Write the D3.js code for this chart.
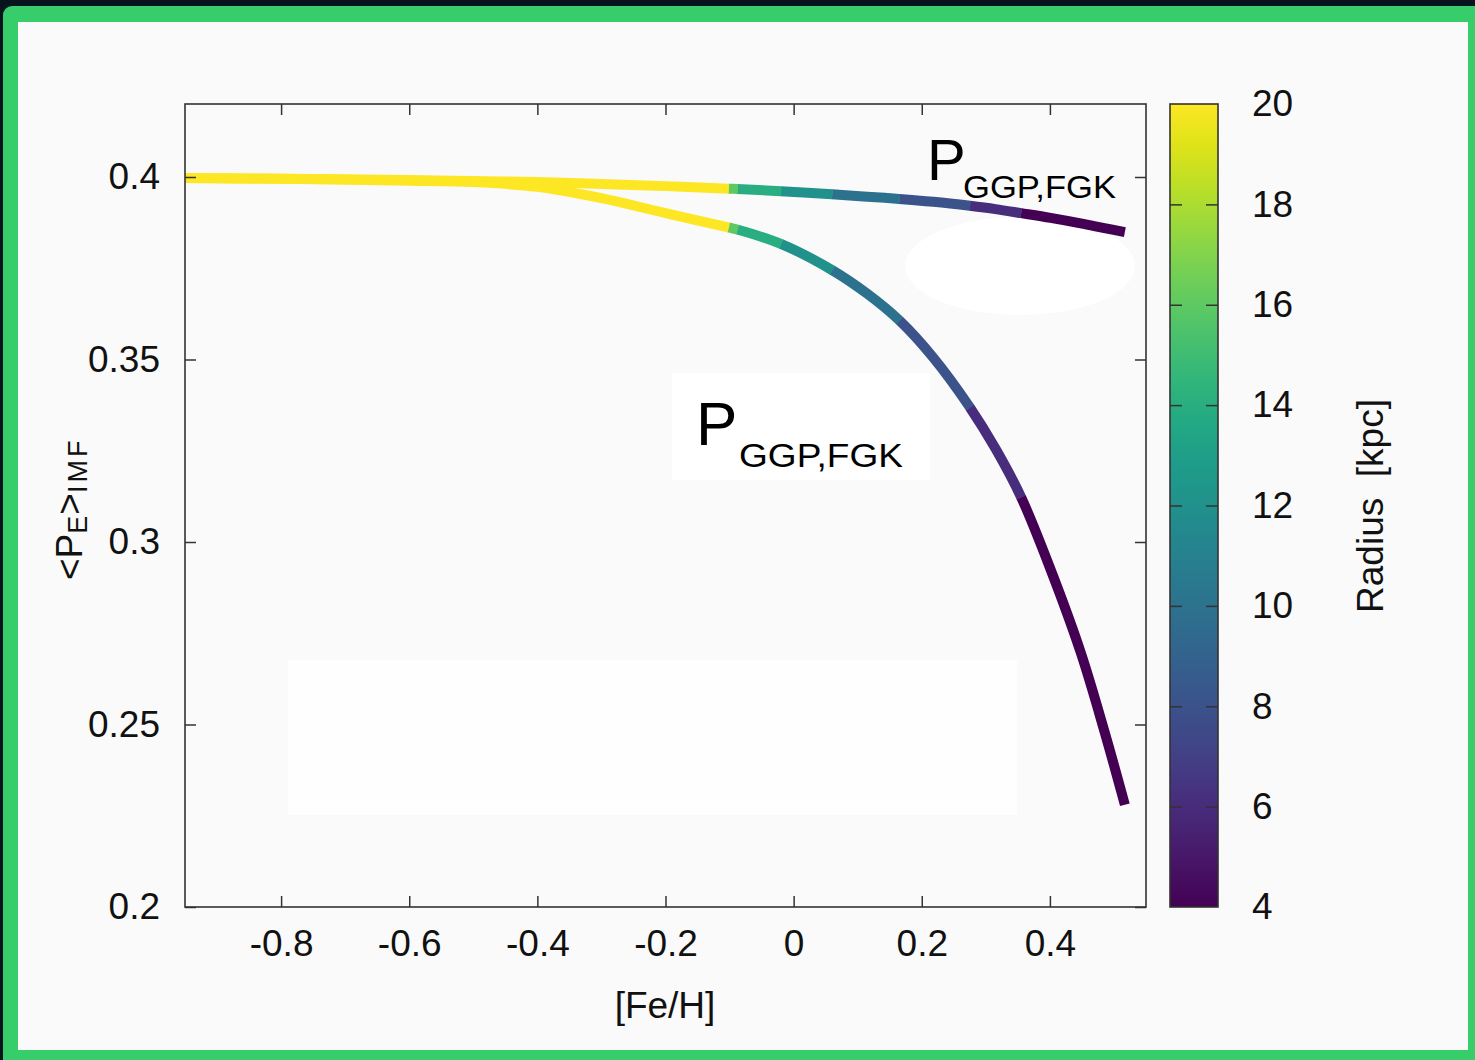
<!DOCTYPE html>
<html>
<head>
<meta charset="utf-8">
<script src="https://cdn.jsdelivr.net/npm/d3@7/dist/d3.min.js"></script>
<style>
  html, body { margin: 0; padding: 0; background: #08141d; }
  svg { display: block; }
  text { font-family: "Liberation Sans", Arial, Helvetica, sans-serif; fill: #111; }
</style>
</head>
<body>
<svg id="chart" width="1475" height="1060"></svg>
<script>
// ---------------- DATA ----------------
// [Fe/H] nodes (inner disc -> outer disc)
const fehValues    = [0.517, 0.485, 0.448, 0.401, 0.355, 0.315, 0.275, 0.218, 0.165, 0.115, 0.06, -0.02, -0.088, -0.102, -0.2, -0.3, -0.4, -0.5, -0.6, -0.8, -0.95];
// galactocentric radius (kpc) of each node
const radiusValues = [4, 4, 4, 4, 6, 6, 8, 8, 10, 10, 12, 14, 16, 20, 21, 22, 23, 24, 25, 27, 29];
// upper curve <P_E>_IMF
const pUpper = [0.3849, 0.3860, 0.3873, 0.3888, 0.3901, 0.3912, 0.3921, 0.3932, 0.3940, 0.3946, 0.3953, 0.3961, 0.3967, 0.3968, 0.3975, 0.3981, 0.3986, 0.3989, 0.3992, 0.3995, 0.3997];
// lower curve <P_E>_IMF
const pLower = [0.2280, 0.2482, 0.2698, 0.2925, 0.3123, 0.3256, 0.3369, 0.3505, 0.3607, 0.3680, 0.3745, 0.3817, 0.3856, 0.3862, 0.3901, 0.3942, 0.3973, 0.3986, 0.3990, 0.3995, 0.3997];

const xTicks = [-0.8, -0.6, -0.4, -0.2, 0, 0.2, 0.4];
const xTickLabels = ["-0.8", "-0.6", "-0.4", "-0.2", "0", "0.2", "0.4"];
const yTicks = [0.2, 0.25, 0.3, 0.35, 0.4];
const yTickLabels = ["0.2", "0.25", "0.3", "0.35", "0.4"];
const cbTicks = [4, 6, 8, 10, 12, 14, 16, 18, 20];
const cbTickLabels = ["4", "6", "8", "10", "12", "14", "16", "18", "20"];

const xTitle = "[Fe/H]";
const cbTitle = "Radius  [kpc]";
const curveLabelMain = "P";
const curveLabelSub = "GGP,FGK";

// ---------------- LAYOUT ----------------
const svg = d3.select("#chart");
const W = 1475, H = 1060;
const plot = { left: 185, top: 104, right: 1146, bottom: 907 };
const cb = { left: 1170, right: 1218, top: 104, bottom: 907 };

// frame
svg.append("rect").attr("x", 3).attr("y", 6).attr("width", W + 10).attr("height", H + 10)
  .attr("rx", 9).attr("fill", "#37cd6b");
svg.append("rect").attr("x", 18).attr("y", 22).attr("width", 1468 - 18).attr("height", 1050 - 22)
  .attr("fill", "#fafafa");

// pasted white patches of the original figure
svg.append("rect").attr("x", 288).attr("y", 660).attr("width", 1017 - 288).attr("height", 815 - 660).attr("fill", "#fefefe");
svg.append("ellipse").attr("cx", 1020).attr("cy", 266).attr("rx", 115).attr("ry", 49).attr("fill", "#ffffff");

const x = d3.scaleLinear().domain([-0.95, 0.55]).range([plot.left, plot.right]);
const y = d3.scaleLinear().domain([0.2, 0.42]).range([plot.bottom, plot.top]);
const color = d3.scaleSequential(d3.interpolateViridis).domain([4, 20]).clamp(true);

const defs = svg.append("defs");

// ---------------- CURVES ----------------
function drawCurve(pvals) {
  const pts = fehValues.map((f, i) => ({ f, p: pvals[i], r: radiusValues[i] }))
    .sort((a, b) => a.f - b.f);
  const line = d3.line().x(d => x(d.f)).y(d => y(d.p)).curve(d3.curveCatmullRom.alpha(0.5));
  const dPath = line(pts);
  const g = svg.append("g");
  // helper path to measure lengths
  const probe = g.append("path").attr("d", dPath).attr("fill", "none").attr("stroke", "none").node();
  const total = probe.getTotalLength();
  const lengthAtX = px => {
    let lo = 0, hi = total;
    for (let k = 0; k < 40; k++) {
      const mid = (lo + hi) / 2;
      if (probe.getPointAtLength(mid).x < px) lo = mid; else hi = mid;
    }
    return (lo + hi) / 2;
  };
  // colour bands: segment from a node outward keeps that node's radius colour
  const groups = [];
  for (let i = 0; i < fehValues.length - 1; i++) {
    const c = color(radiusValues[i]);
    const last = groups[groups.length - 1];
    if (last && last.c === c) last.lo = fehValues[i + 1];
    else groups.push({ c, hi: fehValues[i], lo: fehValues[i + 1] });
  }
  groups.forEach(gr => {
    const L0 = gr.lo <= d3.min(fehValues) ? 0 : lengthAtX(x(gr.lo));
    const L1 = gr.hi >= d3.max(fehValues) ? total : lengthAtX(x(gr.hi)) + 0.5;
    g.append("path").attr("d", dPath).attr("fill", "none")
      .attr("stroke", gr.c).attr("stroke-width", 10)
      .attr("stroke-dasharray", `0,${L0},${L1 - L0},${total + 10}`)
      .attr("stroke-linecap", "butt").attr("stroke-linejoin", "round");
  });
}
drawCurve(pLower);
drawCurve(pUpper);

// ---------------- AXES ----------------
const tickStyle = sel => {
  sel.select(".domain").remove();
  sel.selectAll(".tick line").attr("stroke", "#333").attr("stroke-width", 1.5);
  sel.selectAll(".tick text").attr("font-size", 37).attr("fill", "#111")
     .attr("font-family", "'Liberation Sans', Arial, sans-serif");
};

svg.append("g").attr("transform", `translate(0,${plot.bottom})`)
  .call(d3.axisBottom(x).tickValues(xTicks).tickFormat((d, i) => xTickLabels[i])
    .tickSizeInner(-11).tickSizeOuter(0).tickPadding(23))
  .call(tickStyle);
svg.append("g").attr("transform", `translate(0,${plot.top})`)
  .call(d3.axisTop(x).tickValues(xTicks).tickFormat("").tickSizeInner(-11).tickSizeOuter(0))
  .call(tickStyle);
svg.append("g").attr("transform", `translate(${plot.left},0)`)
  .call(d3.axisLeft(y).tickValues(yTicks).tickFormat((d, i) => yTickLabels[i])
    .tickSizeInner(-11).tickSizeOuter(0).tickPadding(25))
  .call(tickStyle);
svg.append("g").attr("transform", `translate(${plot.right},0)`)
  .call(d3.axisRight(y).tickValues(yTicks).tickFormat("").tickSizeInner(-11).tickSizeOuter(0))
  .call(tickStyle);

svg.append("rect").attr("x", plot.left).attr("y", plot.top)
  .attr("width", plot.right - plot.left).attr("height", plot.bottom - plot.top)
  .attr("fill", "none").attr("stroke", "#333").attr("stroke-width", 1.6);

// axis titles
svg.append("text").attr("x", 665).attr("y", 1018).attr("text-anchor", "middle")
  .attr("font-size", 37).text(xTitle);

const yl = svg.append("text").attr("transform", "translate(82,580) rotate(-90)")
  .attr("font-size", 37);
yl.append("tspan").text("<P");
yl.append("tspan").attr("font-size", 27).attr("dy", 5).attr("letter-spacing", 1).text("E");
yl.append("tspan").attr("font-size", 37).attr("dy", -5).text(">");
yl.append("tspan").attr("font-size", 27).attr("dy", 5).attr("letter-spacing", 3).text("IMF");

// ---------------- COLOUR BAR ----------------
const grad = defs.append("linearGradient").attr("id", "vir")
  .attr("x1", 0).attr("y1", 1).attr("x2", 0).attr("y2", 0);
d3.range(0, 1.0001, 0.05).forEach(t => {
  grad.append("stop").attr("offset", t).attr("stop-color", d3.interpolateViridis(t));
});
svg.append("rect").attr("x", cb.left).attr("y", cb.top)
  .attr("width", cb.right - cb.left).attr("height", cb.bottom - cb.top)
  .attr("fill", "url(#vir)");

const cy = d3.scaleLinear().domain([4, 20]).range([cb.bottom, cb.top]);
svg.append("g").attr("transform", `translate(${cb.left},0)`)
  .call(d3.axisLeft(cy).tickValues(cbTicks.slice(1, -1)).tickFormat("").tickSizeInner(-12).tickSizeOuter(0))
  .call(tickStyle);
svg.append("g").attr("transform", `translate(${cb.right},0)`)
  .call(d3.axisRight(cy).tickValues(cbTicks).tickFormat((d, i) => cbTickLabels[i])
    .tickSizeInner(0).tickSizeOuter(0).tickPadding(34))
  .call(tickStyle);
svg.append("g").attr("transform", `translate(${cb.right},0)`)
  .call(d3.axisLeft(cy).tickValues(cbTicks.slice(1, -1)).tickFormat("").tickSizeInner(12).tickSizeOuter(0))
  .call(tickStyle);
svg.append("rect").attr("x", cb.left).attr("y", cb.top)
  .attr("width", cb.right - cb.left).attr("height", cb.bottom - cb.top)
  .attr("fill", "none").attr("stroke", "#333").attr("stroke-width", 1.6);

svg.append("text").attr("transform", "translate(1383,506) rotate(-90)")
  .attr("text-anchor", "middle").attr("font-size", 37)
  .style("white-space", "pre").text(cbTitle);

// ---------------- CURVE LABELS ----------------
function curveLabel(px, pBase, pSize, sx, sBase, sSize, sLen) {
  const g = svg.append("g");
  g.append("text").attr("x", px).attr("y", pBase).attr("font-size", pSize)
    .attr("font-family", "Lato, 'Open Sans', sans-serif").style("fill", "#000").text(curveLabelMain);
  g.append("text").attr("x", sx).attr("y", sBase).attr("font-size", sSize)
    .attr("font-family", "Lato, 'Open Sans', sans-serif").style("fill", "#000")
    .attr("textLength", sLen).attr("lengthAdjust", "spacingAndGlyphs").text(curveLabelSub);
}
// white box behind lower label
svg.append("rect").attr("x", 672).attr("y", 373).attr("width", 258).attr("height", 107).attr("fill", "#ffffff");
curveLabel(927, 180, 58, 963, 198, 31, 153);
curveLabel(696, 445, 62, 739, 467, 34, 164);
</script>
</body>
</html>
